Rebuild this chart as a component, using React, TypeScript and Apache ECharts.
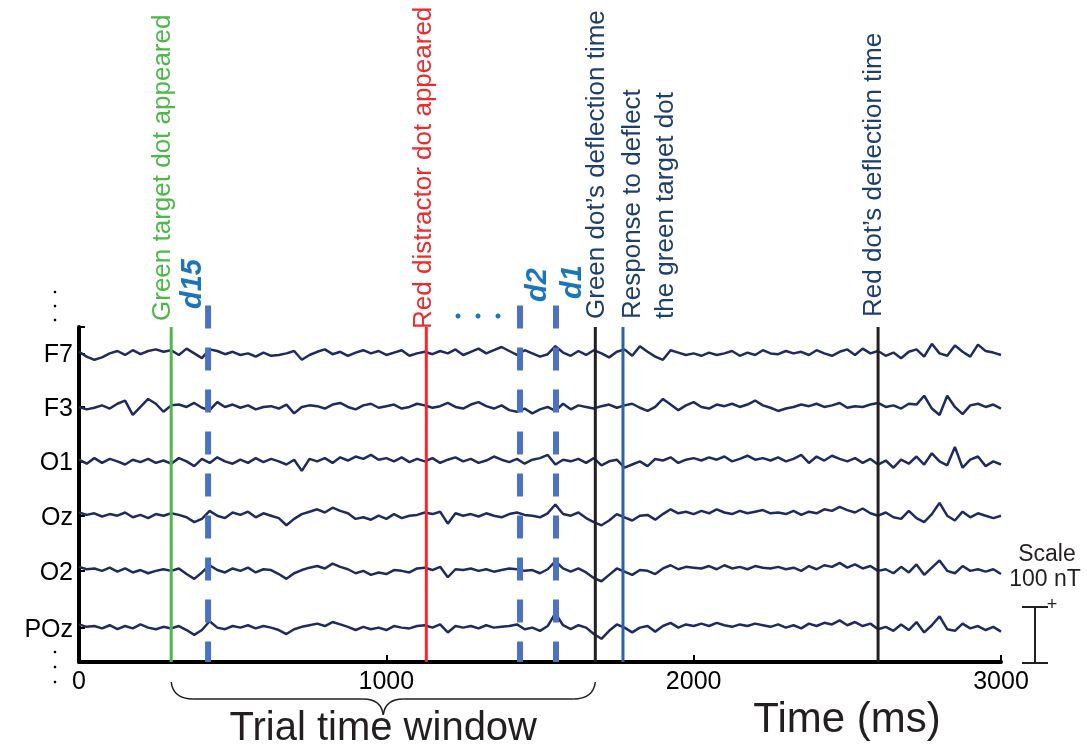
import React, { useEffect, useRef } from "react";
import * as echarts from "echarts";

const CHANNELS = ["F7", "F3", "O1", "Oz", "O2", "POz"];
const OFFSETS = [386, 319, 251, 183, 114, 43];
const Y_MAX = 419;
const SAMPLE_STEP = 25;
const X_TICKS = [0, 1000, 2000, 3000];

const F7 = [
  2, -4, -8, -5, 0, 3, -2, 4, -1, 3, 5,
  2, 4, -2, 6, 0, -6, 5, 3, -1, 2,
  -2, 0, -4, 1, -3, -2, 0, 3, -8, -2,
  2, 5, -1, 2, -3, 1, 4, 0, 3, -2,
  1, 4, -3, 0, 2, -1, 3, 0, 5, -2,
  2, 6, 0, 4, 8, 3, -2, 4, 0, -4,
  -1, 9, 1, -3, 3, -2, 4, 0, -5, 2,
  5, -3, 9, 2, -4, -8, 4, 1, -2, 0,
  -3, 1, -2, 0, 3, -3, 1, -2, 4, 0,
  -1, 3, 0, 2, -2, 4, 0, -3, 2, 5,
  -2, 6, 0, 3, -3, 1, -6, 2, 5, -4,
  12, 0, -3, 10, 2, -4, 11, 3, 1, -2,
];
const F3 = [
  0, -3, -1, 2, -2, 4, 8, -10, 0, 10, 4,
  -6, 2, 3, 0, 5, -1, -4, 6, 0, 3,
  -1, 2, -3, 0, 1, -2, 3, -8, 0, 2,
  1, -2, 3, 5, 0, -3, 2, 4, -1, 1,
  3, -2, 0, 4, 2, -1, 1, 5, 0, -2,
  3, 6, 1, -2, 2, -4, -6, -2, -8, -3,
  0, -5, 4, -3, 2, 0, -2, 1, 3, -1,
  2, 4, -1, -5, 0, 10, 3, -4, 2, 6,
  0, -2, 3, 1, 4, 0, 3, 8, 2, -1,
  -5, -2, 0, 3, 1, 4, 0, 2, 5, -1,
  1, 0, 3, 5, 0, 2, -2, 4, 3, 14,
  -2, -10, 14, 0, -9, 2, 4, 0, 3, -2,
];
const O1 = [
  2, -3, 4, -2, 3, 0, -4, 2, -1, 3, -2,
  1, -3, 4, 0, -6, 3, -2, 5, 0, -3,
  2, -2, 4, -1, 3, 0, -4, 2, -12, 3,
  0, 4, -2, 5, 1, 6, 3, 8, 2, 4,
  0, 5, -1, 3, 0, 4, -2, 2, 5, 0,
  3, -2, 1, 6, 2, -1, 3, -3, 2, 4,
  8, -4, 2, 0, 3, -2, 4, -5, 0, 2,
  -8, -4, 0, -6, 3, 1, 5, -2, 2, 4,
  1, 5, 2, 6, 0, 3, 7, 2, 4, 1,
  5, 0, 3, 8, -2, 6, 1, 7, 3, 0,
  4, -2, 3, -4, 1, -8, 2, -3, 6, -4,
  10, 0, -5, 18, -8, 2, 6, -6, 0, -4,
];
const OZ = [
  4, 1, 3, -1, 2, 0, 4, -2, 1, -3, 2,
  0, 3, 1, -2, -8, -4, 6, 0, -3, 4,
  1, 5, -2, 3, 0, -3, -12, -4, 2, 5,
  8, 4, 10, 6, 3, -4, -2, -5, 0, -4,
  2, -3, 0, 1, 4, 2, 5, -10, 3, 0,
  2, -1, 3, 0, -2, 2, 4, 1, 0, -2,
  3, 14, 2, 0, 4, -3, -8, -12, -6, 2,
  -2, -6, 0, 1, -5, 2, 8, 3, 5, 2,
  6, 3, 8, 4, 2, 6, 3, 5, 7, 3,
  4, 2, 6, 1, 5, 3, 8, 6, 11, 7,
  4, 9, 3, 0, 4, -2, -4, 6, -3, -8,
  2, 16, 0, -6, 5, -2, 3, 0, -3, 0,
];
const O2 = [
  5, 2, 3, 0, 4, -1, 3, -2, 1, -3, 0,
  2, 0, 3, -4, -10, -2, 7, 1, -2, 3,
  0, 4, -2, 2, 1, -4, -10, -3, 1, 4,
  6, 3, 9, 5, 2, -3, 0, -5, -2, -4,
  1, 0, -2, 3, 4, 1, 5, -8, 2, 1,
  3, 0, 2, -1, 1, 3, 2, 0, 1, -3,
  2, 12, 3, -1, 3, -2, -9, -13, -5, 3,
  -1, -5, 1, 0, -4, 3, 7, 2, 5, 4,
  3, 6, 2, 7, 3, 5, 2, 6, 4, 3,
  5, 2, 4, 0, 6, 2, 7, 5, 10, 4,
  8, 3, 6, 0, 2, -3, 5, -2, 8, -5,
  4, 13, 0, -3, 6, 0, 2, -1, 2, -4,
];
const POZ = [
  4, 1, 2, -1, 3, -2, 2, -1, 4, 0, -2,
  1, -1, 2, -3, -9, -3, 8, 0, -2, 2,
  0, 3, -1, 2, 0, -3, -8, -2, 1, 3,
  5, 2, 7, 4, 1, -3, 1, -2, 0, -3,
  2, 0, -1, 2, 3, 0, 4, -6, 2, 0,
  2, -1, 3, 0, 1, 2, 4, -2, 0, -4,
  2, 18, 3, -2, 3, 0, -8, -14, -4, 4,
  0, -6, 0, 2, -5, 2, 6, 0, 4, 2,
  5, 2, 6, 3, 1, 4, 2, 5, 3, 1,
  4, 0, 3, -1, 5, 2, 6, 4, 9, 3,
  7, 2, 5, -2, 1, -4, 4, -3, 7, -6,
  3, 14, -2, -4, 5, -1, 2, -3, 1, -5,
];
const TRACES = [F7, F3, O1, OZ, O2, POZ];

// event markers: time (ms), top value on the y axis
const EVENT_TIMES = [300, 420, 1130, 1435, 1552, 1680, 1770, 2600];
const EVENT_TOPS = [419, 446, 419, 446, 446, 419, 419, 419];
const EVENT_COLORS = ["#4cb848", "#4a72c0", "#ee2a2a", "#4a72c0", "#4a72c0", "#231f20", "#2a62b2", "#231f20"];
const EVENT_DASHED = [false, true, false, true, true, false, false, false];

const FONT = "Liberation Sans, Arial, sans-serif";
const NAVY = "#1d3f6e";

export default function App() {
  const ref = useRef<HTMLDivElement>(null);
  useEffect(() => {
    if (!ref.current) return;
    const chart = echarts.init(ref.current, null, { renderer: "svg" });
    const traceSeries = TRACES.map((vals, k) => ({
      type: "line",
      name: CHANNELS[k],
      data: vals.map((v, i) => [i * SAMPLE_STEP, OFFSETS[k] + v]),
      showSymbol: false,
      symbol: "none",
      lineStyle: { color: "#1f2a5e", width: 2.5 },
      z: 2,
    }));
    const eventSeries = EVENT_TIMES.map((t, k) => ({
      type: "line",
      data: [
        [t, EVENT_TOPS[k]],
        [t, 0],
      ],
      showSymbol: false,
      symbol: "none",
      clip: false,
      lineStyle: {
        color: EVENT_COLORS[k],
        width: EVENT_DASHED[k] ? 6 : 3,
        type: EVENT_DASHED[k] ? [23, 19] : "solid",
        cap: "butt",
      },
      z: 3,
    }));
    chart.setOption({
      animation: false,
      grid: { left: 79, right: 86, top: 327, bottom: 86 },
      xAxis: {
        type: "value",
        min: 0,
        max: 3000,
        interval: 1000,
        splitLine: { show: false },
        axisLine: { lineStyle: { color: "#000", width: 4 } },
        axisTick: { inside: true, length: 7, lineStyle: { color: "#000", width: 2 } },
        axisLabel: {
          color: "#000",
          fontSize: 25,
          fontFamily: FONT,
          margin: 5,
          customValues: X_TICKS,
          formatter: (v: number) => String(v),
        },
      },
      yAxis: {
        type: "value",
        min: 0,
        max: Y_MAX,
        splitLine: { show: false },
        axisLine: { show: true, lineStyle: { color: "#000", width: 4 } },
        axisTick: {
          show: true,
          inside: true,
          length: 6,
          customValues: [...OFFSETS, Y_MAX],
          lineStyle: { color: "#000", width: 2 },
        },
        axisLabel: {
          color: "#000",
          fontSize: 25,
          fontFamily: FONT,
          margin: 6,
          customValues: OFFSETS,
          formatter: (v: number) => {
            const i = OFFSETS.indexOf(v);
            return i >= 0 ? CHANNELS[i] : "";
          },
        },
      },
      series: [...traceSeries, ...eventSeries],
    });

    const px = (t: number) => chart.convertToPixel({ xAxisIndex: 0 }, t) as number;
    const vtext = (text: string, x: number, y: number, color: string, extra: any = {}) => ({
      type: "text",
      x,
      y,
      rotation: Math.PI / 2,
      style: {
        text,
        fill: color,
        fontSize: 26,
        fontFamily: FONT,
        align: "left",
        verticalAlign: "middle",
        ...extra,
      },
      z: 10,
    });
    const dLabel = { fontSize: 29, fontWeight: "bold", fontStyle: "italic" };
    const braceL = px(300);
    const braceR = px(1680);
    const braceM = (braceL + braceR) / 2;
    const line = (x1: number, y1: number, x2: number, y2: number, w = 1.5) => ({
      type: "line",
      shape: { x1, y1, x2, y2 },
      style: { stroke: "#231f20", lineWidth: w },
    });
    const curve = (x1: number, y1: number, cx: number, cy: number, x2: number, y2: number) => ({
      type: "bezierCurve",
      shape: { x1, y1, cpx1: cx, cpy1: cy, x2, y2 },
      style: { stroke: "#231f20", lineWidth: 1.5, fill: null },
    });
    const dot = (x: number, y: number, r: number, fill: string) => ({
      type: "circle",
      shape: { cx: x, cy: y, r },
      style: { fill },
    });
    const plain = (text: string, x: number, y: number, size: number, va = "middle") => ({
      type: "text",
      x,
      y,
      style: { text, fill: "#231f20", fontSize: size, fontFamily: FONT, align: "center", verticalAlign: va },
    });
    chart.setOption({
      graphic: [
        vtext("Green target dot appeared", px(300) - 10, 321, "#4cb848"),
        vtext("d15", px(420) - 17, 309, "#1b75bc", dLabel),
        vtext("Red distractor dot appeared", px(1130) - 4, 329, "#ee2a2a"),
        dot(458, 316, 2.5, "#1b75bc"),
        dot(478, 316, 2.5, "#1b75bc"),
        dot(498, 316, 2.5, "#1b75bc"),
        vtext("d2", px(1435) + 16, 302, "#1b75bc", dLabel),
        vtext("d1", px(1552) + 15, 299, "#1b75bc", dLabel),
        vtext("Green dot\u2019s deflection time", px(1680), 319, NAVY),
        vtext("Response to deflect\nthe green target dot", px(1770) + 25, 319, NAVY, { lineHeight: 33 }),
        vtext("Red dot\u2019s deflection time", px(2600) - 6, 317, NAVY),
        // vertical ellipses
        dot(55, 292, 1.3, "#000"),
        dot(55, 306, 1.3, "#000"),
        dot(55, 320, 1.3, "#000"),
        dot(55, 652, 1.3, "#000"),
        dot(55, 667, 1.3, "#000"),
        dot(55, 682, 1.3, "#000"),
        // brace
        curve(braceL, 682, braceL + 2, 699, braceL + 22, 699),
        line(braceL + 22, 699, braceM - 20, 699),
        curve(braceM - 20, 699, braceM - 2, 699, braceM, 715),
        curve(braceM, 715, braceM + 2, 699, braceM + 20, 699),
        line(braceM + 20, 699, braceR - 22, 699),
        curve(braceR - 22, 699, braceR - 2, 699, braceR, 682),
        plain("Trial time window", braceM, 746, 40, "bottom"),
        plain("Time (ms)", 847, 717, 42),
        // scale bar
        plain("Scale", 1047, 553, 23),
        plain("100 nT", 1045, 578, 23),
        plain("+", 1052, 604, 18),
        line(1035, 607, 1035, 663, 2),
        line(1022, 607, 1048, 607, 2),
        line(1022, 663, 1048, 663, 2),
      ],
    });
    return () => chart.dispose();
  }, []);
  return <div ref={ref} style={{ position: "fixed", left: 0, top: 0, width: 1087, height: 748 }} />;
}
